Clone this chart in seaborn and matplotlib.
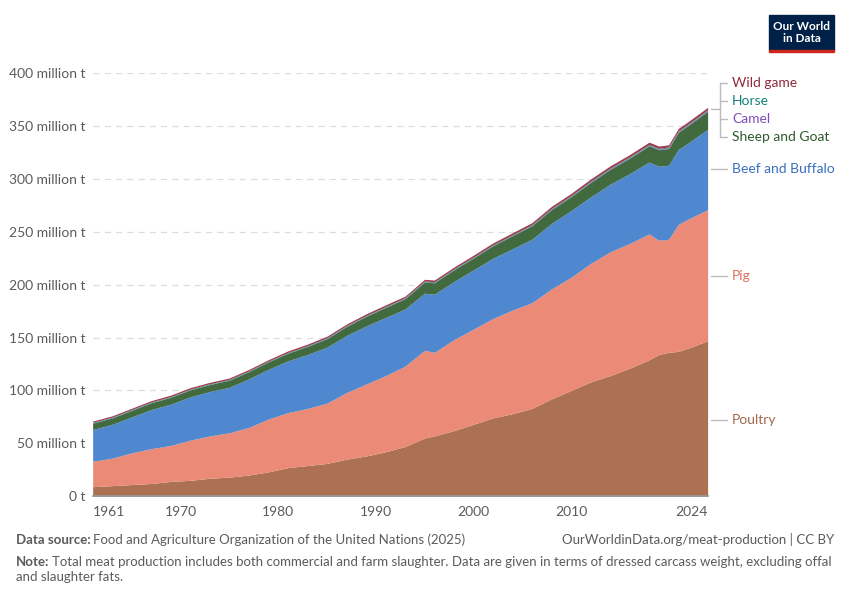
import matplotlib
matplotlib.use("Agg")
import matplotlib.pyplot as plt
import seaborn as sns
from matplotlib.patches import Rectangle

years = [1961, 1963, 1965, 1967, 1969, 1971, 1973, 1975, 1977, 1979, 1981, 1983, 1985,
         1987, 1989, 1991, 1993, 1995, 1996, 1998, 2000, 2002, 2004, 2006, 2008, 2010,
         2012, 2014, 2016, 2018, 2019, 2020, 2021, 2022, 2024]
poultry = [9, 10, 11, 12, 14, 15, 17, 18, 20, 23, 27, 29, 31, 35, 38, 42, 47, 55, 57, 62,
           68, 74, 78, 83, 92, 100, 108, 114, 121, 129, 134, 136, 137, 140, 147]
pig = [24, 26, 30, 33, 34, 38, 40, 42, 45, 50, 52, 54, 57, 63, 68, 72, 76, 83, 79, 86,
       90, 94, 98, 100, 104, 107, 112, 117, 118, 119, 108, 107, 120, 122, 124]
beef = [30, 32, 34, 37, 39, 41, 42, 43, 46, 47, 49, 51, 53, 54, 55, 55, 54, 54, 55, 55,
        56, 57, 58, 60, 62, 63, 63, 64, 66, 68, 70, 70, 71, 72, 76]
sheep_goat = [6, 6, 6.2, 6.4, 6.5, 6.6, 6.6, 6.7, 6.8, 7, 7.2, 7.6, 8, 8.5, 9, 9.5, 9.8,
              10.5, 10.8, 11, 11.2, 11.8, 12.3, 12.8, 13, 13.2, 13.6, 14, 14.6, 15.3,
              15.6, 15.8, 16.2, 16.5, 17]
camel = [0.2, 0.2, 0.2, 0.2, 0.2, 0.2, 0.2, 0.2, 0.2, 0.2, 0.2, 0.2, 0.3, 0.3, 0.3, 0.3,
         0.3, 0.3, 0.3, 0.3, 0.3, 0.3, 0.3, 0.4, 0.4, 0.4, 0.5, 0.5, 0.6, 0.6, 0.6, 0.6,
         0.7, 0.7, 0.7]
horse = [0.6, 0.6, 0.6, 0.6, 0.6, 0.6, 0.6, 0.6, 0.6, 0.6, 0.6, 0.6, 0.6, 0.6, 0.6, 0.6,
         0.6, 0.7, 0.7, 0.7, 0.7, 0.7, 0.7, 0.7, 0.8, 0.8, 0.8, 0.8, 0.8, 0.8, 0.8, 0.8,
         0.8, 0.8, 0.8]
wild_game = [1.2, 1.2, 1.2, 1.2, 1.3, 1.3, 1.3, 1.3, 1.3, 1.3, 1.4, 1.4, 1.4, 1.4, 1.5,
             1.5, 1.5, 1.6, 1.6, 1.6, 1.7, 1.7, 1.8, 1.8, 1.9, 1.9, 2.0, 2.0, 2.0, 2.1,
             2.1, 2.1, 2.1, 2.2, 2.2]

series = [poultry, pig, beef, sheep_goat, camel, horse, wild_game]
names = ["Poultry", "Pig", "Beef and Buffalo", "Sheep and Goat", "Camel", "Horse", "Wild game"]
fills = ["#ac7052", "#eb8a77", "#4f88cf", "#416a3e", "#8c5ec1", "#1f8a83", "#a03a4a"]
texts = ["#a2694c", "#e16f5c", "#3a6fc0", "#2f5a2c", "#7e4fb3", "#128079", "#8e2b3b"]

sns.set_theme(style="white")
plt.rcParams["font.family"] = ["Lato", "DejaVu Sans"]

fig = plt.figure(figsize=(8.5, 6), dpi=100)
ax = fig.add_axes([0.109, 0.173, 0.7235, 0.705])
ax.stackplot(years, *series, colors=fills, linewidth=0)
ax.set_xlim(1961, 2024)
ax.set_ylim(0, 400)

yt = [0, 50, 100, 150, 200, 250, 300, 350, 400]
ax.set_yticks(yt)
ax.set_yticklabels(["0 t"] + [f"{v} million t" for v in yt[1:]], color="#5b5b5b", fontsize=10)
for v in yt[1:]:
    ax.axhline(v, color="#dddddd", lw=0.9, ls=(0, (5, 4)), zorder=0)
ax.set_xticks([1961, 1970, 1980, 1990, 2000, 2010, 2020, 2024])
ax.set_xticklabels(["1961", "1970", "1980", "1990", "2000", "2010", "", "2024"],
                   color="#5b5b5b", fontsize=10)
ax.tick_params(axis="x", length=4, color="#999999", pad=3)
ax.tick_params(axis="y", length=0, pad=5)
xl = ax.get_xticklabels()
xl[0].set_horizontalalignment("left")
xl[-1].set_horizontalalignment("right")
for s in ["top", "right", "left"]:
    ax.spines[s].set_visible(False)
ax.spines["bottom"].set_color("#999999")

# right-hand labels
label_y = [72, 208, 309, 340, 357, 374, 391]
tot = [0]
for s in series:
    tot.append(tot[-1] + s[-1])
for i in range(3):
    ax.plot([2024.3, 2026.0], [label_y[i], label_y[i]], color="#bbbbbb", lw=1, clip_on=False)
top_y = tot[-1] - 2
ax.plot([2024.3, 2025.3], [top_y, top_y], color="#bbbbbb", lw=1, clip_on=False)
ax.plot([2025.3, 2025.3], [label_y[3], label_y[6]], color="#bbbbbb", lw=1, clip_on=False)
for i in range(3, 7):
    ax.plot([2025.3, 2026.0], [label_y[i], label_y[i]], color="#bbbbbb", lw=1, clip_on=False)
for i in range(7):
    ax.text(2026.5, label_y[i], names[i], color=texts[i], fontsize=10, va="center")

# logo
fig.patches.append(Rectangle((769 / 850, 1 - 50 / 600), 65 / 850, 35 / 600,
                             transform=fig.transFigure, color="#002147"))
fig.patches.append(Rectangle((769 / 850, 1 - 52 / 600), 65 / 850, 2.5 / 600,
                             transform=fig.transFigure, color="#ce261e"))
fig.text(801.5 / 850, 1 - 32.5 / 600, "Our World\nin Data", color="white", fontsize=8.5,
         ha="center", va="center", fontweight="bold", linespacing=1.0)

fig.text(16 / 850, 1 - 540 / 600, "Data source:", color="#5b5b5b", fontsize=9.5,
         fontweight="bold", va="center")
fig.text(93 / 850, 1 - 540 / 600, "Food and Agriculture Organization of the United Nations (2025)",
         color="#5b5b5b", fontsize=9.5, va="center")
fig.text(834 / 850, 1 - 540 / 600, "OurWorldinData.org/meat-production | CC BY",
         color="#5b5b5b", fontsize=9.5, va="center", ha="right")
fig.text(16 / 850, 1 - 562 / 600, "Note:", color="#5b5b5b", fontsize=9.5,
         fontweight="bold", va="center")
fig.text(52 / 850, 1 - 562 / 600,
         "Total meat production includes both commercial and farm slaughter. Data are given in terms of dressed carcass weight, excluding offal",
         color="#5b5b5b", fontsize=9.5, va="center")
fig.text(16 / 850, 1 - 577 / 600, "and slaughter fats.", color="#5b5b5b", fontsize=9.5, va="center")

fig.savefig("out.png", dpi=100)
